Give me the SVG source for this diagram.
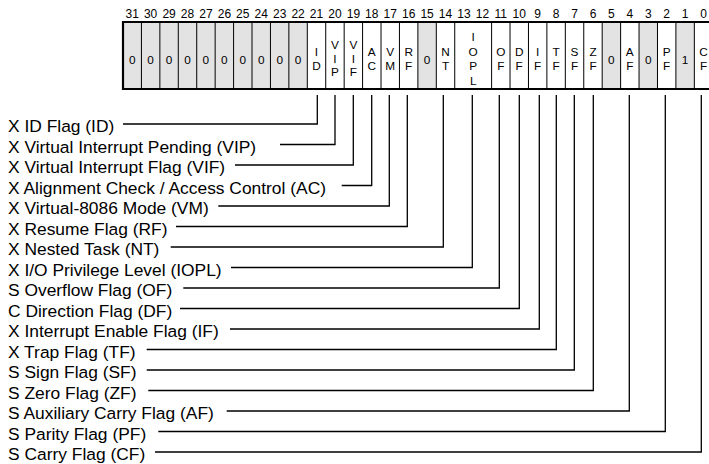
<svg xmlns="http://www.w3.org/2000/svg" width="709" height="464" viewBox="0 0 709 464">
<style>
text{font-family:"Liberation Sans",Arial,sans-serif;fill:#000}
.num{font-size:12px;text-anchor:middle}
.bit{font-size:11.8px;text-anchor:middle}
.lbl{font-size:17.4px}
.res{fill:#e3e3e3}
.div{stroke:#000;stroke-width:1}
.bord{stroke:#000;stroke-width:2.2;fill:none}
.con{stroke:#000;stroke-width:1.3;fill:none}
</style>
<rect width="709" height="464" fill="#fff"/>
<g id="bitnumbers">
<text class="num" x="132.2" y="18">31</text><text class="num" x="150.6" y="18">30</text><text class="num" x="169.1" y="18">29</text><text class="num" x="187.5" y="18">28</text><text class="num" x="205.9" y="18">27</text><text class="num" x="224.4" y="18">26</text><text class="num" x="242.8" y="18">25</text><text class="num" x="261.2" y="18">24</text><text class="num" x="279.7" y="18">23</text><text class="num" x="298.1" y="18">22</text><text class="num" x="316.5" y="18">21</text><text class="num" x="334.9" y="18">20</text><text class="num" x="353.4" y="18">19</text><text class="num" x="371.8" y="18">18</text><text class="num" x="390.2" y="18">17</text><text class="num" x="408.7" y="18">16</text><text class="num" x="427.1" y="18">15</text><text class="num" x="445.5" y="18">14</text><text class="num" x="464.0" y="18">13</text><text class="num" x="482.4" y="18">12</text><text class="num" x="500.8" y="18">11</text><text class="num" x="519.2" y="18">10</text><text class="num" x="537.7" y="18">9</text><text class="num" x="556.1" y="18">8</text><text class="num" x="574.5" y="18">7</text><text class="num" x="593.0" y="18">6</text><text class="num" x="611.4" y="18">5</text><text class="num" x="629.8" y="18">4</text><text class="num" x="648.3" y="18">3</text><text class="num" x="666.7" y="18">2</text><text class="num" x="685.1" y="18">1</text><text class="num" x="703.5" y="18">0</text>
</g>
<g id="register">
<rect class="res" x="123" y="22" width="184.3" height="67"/>
<rect class="res" x="417.88" y="22" width="18.43" height="67"/>
<rect class="res" x="602.18" y="22" width="18.43" height="67"/>
<rect class="res" x="639.04" y="22" width="18.43" height="67"/>
<rect class="res" x="675.9" y="22" width="18.43" height="67"/>
<g class="div">
<line x1="141.43" y1="22" x2="141.43" y2="89"/><line x1="159.86" y1="22" x2="159.86" y2="89"/><line x1="178.29" y1="22" x2="178.29" y2="89"/><line x1="196.72" y1="22" x2="196.72" y2="89"/><line x1="215.15" y1="22" x2="215.15" y2="89"/><line x1="233.58" y1="22" x2="233.58" y2="89"/><line x1="252.01" y1="22" x2="252.01" y2="89"/><line x1="270.44" y1="22" x2="270.44" y2="89"/><line x1="288.87" y1="22" x2="288.87" y2="89"/><line x1="307.3" y1="22" x2="307.3" y2="89"/><line x1="325.73" y1="22" x2="325.73" y2="89"/><line x1="344.16" y1="22" x2="344.16" y2="89"/><line x1="362.59" y1="22" x2="362.59" y2="89"/><line x1="381.02" y1="22" x2="381.02" y2="89"/><line x1="399.45" y1="22" x2="399.45" y2="89"/><line x1="417.88" y1="22" x2="417.88" y2="89"/><line x1="436.31" y1="22" x2="436.31" y2="89"/><line x1="454.74" y1="22" x2="454.74" y2="89"/><line x1="491.6" y1="22" x2="491.6" y2="89"/><line x1="510.03" y1="22" x2="510.03" y2="89"/><line x1="528.46" y1="22" x2="528.46" y2="89"/><line x1="546.89" y1="22" x2="546.89" y2="89"/><line x1="565.32" y1="22" x2="565.32" y2="89"/><line x1="583.75" y1="22" x2="583.75" y2="89"/><line x1="602.18" y1="22" x2="602.18" y2="89"/><line x1="620.61" y1="22" x2="620.61" y2="89"/><line x1="639.04" y1="22" x2="639.04" y2="89"/><line x1="657.47" y1="22" x2="657.47" y2="89"/><line x1="675.9" y1="22" x2="675.9" y2="89"/><line x1="694.33" y1="22" x2="694.33" y2="89"/>
</g>
<path class="bord" d="M715,22 H123 V89 H715"/>
<g id="cellvalues">
<text class="bit" x="132.2" y="64">0</text><text class="bit" x="150.6" y="64">0</text><text class="bit" x="169.1" y="64">0</text><text class="bit" x="187.5" y="64">0</text><text class="bit" x="205.9" y="64">0</text><text class="bit" x="224.4" y="64">0</text><text class="bit" x="242.8" y="64">0</text><text class="bit" x="261.2" y="64">0</text><text class="bit" x="279.7" y="64">0</text><text class="bit" x="298.1" y="64">0</text>
<text class="bit" x="427.1" y="64">0</text><text class="bit" x="611.4" y="64">0</text><text class="bit" x="648.3" y="64">0</text><text class="bit" x="685.1" y="64">1</text>
</g>
<g id="cell-ID"><text class="bit" x="316.5" y="56">I</text><text class="bit" x="316.5" y="69.5">D</text></g>
<g id="cell-VIP"><text class="bit" x="334.9" y="49.2">V</text><text class="bit" x="334.9" y="62.7">I</text><text class="bit" x="334.9" y="76.2">P</text></g>
<g id="cell-VIF"><text class="bit" x="353.4" y="49.2">V</text><text class="bit" x="353.4" y="62.7">I</text><text class="bit" x="353.4" y="76.2">F</text></g>
<g id="cell-AC"><text class="bit" x="371.8" y="56">A</text><text class="bit" x="371.8" y="69.5">C</text></g>
<g id="cell-VM"><text class="bit" x="390.2" y="56">V</text><text class="bit" x="390.2" y="69.5">M</text></g>
<g id="cell-RF"><text class="bit" x="408.7" y="56">R</text><text class="bit" x="408.7" y="69.5">F</text></g>
<g id="cell-NT"><text class="bit" x="445.5" y="56">N</text><text class="bit" x="445.5" y="69.5">T</text></g>
<g id="cell-IOPL"><text class="bit" x="473.2" y="41">I</text><text class="bit" x="473.2" y="55.5">O</text><text class="bit" x="473.2" y="70">P</text><text class="bit" x="473.2" y="84.5">L</text></g>
<g id="cell-OF"><text class="bit" x="500.8" y="56">O</text><text class="bit" x="500.8" y="69.5">F</text></g>
<g id="cell-DF"><text class="bit" x="519.2" y="56">D</text><text class="bit" x="519.2" y="69.5">F</text></g>
<g id="cell-IF"><text class="bit" x="537.7" y="56">I</text><text class="bit" x="537.7" y="69.5">F</text></g>
<g id="cell-TF"><text class="bit" x="556.1" y="56">T</text><text class="bit" x="556.1" y="69.5">F</text></g>
<g id="cell-SF"><text class="bit" x="574.5" y="56">S</text><text class="bit" x="574.5" y="69.5">F</text></g>
<g id="cell-ZF"><text class="bit" x="593.0" y="56">Z</text><text class="bit" x="593.0" y="69.5">F</text></g>
<g id="cell-AF"><text class="bit" x="629.8" y="56">A</text><text class="bit" x="629.8" y="69.5">F</text></g>
<g id="cell-PF"><text class="bit" x="666.7" y="56">P</text><text class="bit" x="666.7" y="69.5">F</text></g>
<g id="cell-CF"><text class="bit" x="703.5" y="56">C</text><text class="bit" x="703.5" y="69.5">F</text></g>
</g>
<g id="connectors" class="con">
<path d="M123,124 H317.3 V95"/>
<path d="M280,144.5 H335 V95"/>
<path d="M235,165 H353.3 V95"/>
<path d="M341.7,185.5 H371.7 V95"/>
<path d="M218.3,206 H389.3 V95"/>
<path d="M176,226.5 H407.3 V95"/>
<path d="M170.7,247 H443.3 V95"/>
<path d="M231,267.5 H472.3 V95"/>
<path d="M183.3,288 H499.3 V95"/>
<path d="M180,308.5 H519.3 V95"/>
<path d="M230,329 H539.3 V95"/>
<path d="M146.7,349.5 H556.3 V95"/>
<path d="M146.7,370 H574.3 V95"/>
<path d="M148.3,390.5 H593.3 V95"/>
<path d="M226.7,411 H629.3 V95"/>
<path d="M158.3,431.5 H665.3 V95"/>
<path d="M155,452 H701.3 V95"/>
</g>
<g id="label-ID"><text class="lbl" x="8" y="132">X ID Flag (ID)</text></g>
<g id="label-VIP"><text class="lbl" x="8" y="152.5">X Virtual Interrupt Pending (VIP)</text></g>
<g id="label-VIF"><text class="lbl" x="8" y="173">X Virtual Interrupt Flag (VIF)</text></g>
<g id="label-AC"><text class="lbl" x="8" y="193.5">X Alignment Check / Access Control (AC)</text></g>
<g id="label-VM"><text class="lbl" x="8" y="214">X Virtual-8086 Mode (VM)</text></g>
<g id="label-RF"><text class="lbl" x="8" y="234.5">X Resume Flag (RF)</text></g>
<g id="label-NT"><text class="lbl" x="8" y="255">X Nested Task (NT)</text></g>
<g id="label-IOPL"><text class="lbl" x="8" y="275.5">X I/O Privilege Level (IOPL)</text></g>
<g id="label-OF"><text class="lbl" x="8" y="296">S Overflow Flag (OF)</text></g>
<g id="label-DF"><text class="lbl" x="8" y="316.5">C Direction Flag (DF)</text></g>
<g id="label-IF"><text class="lbl" x="8" y="337">X Interrupt Enable Flag (IF)</text></g>
<g id="label-TF"><text class="lbl" x="8" y="357.5">X Trap Flag (TF)</text></g>
<g id="label-SF"><text class="lbl" x="8" y="378">S Sign Flag (SF)</text></g>
<g id="label-ZF"><text class="lbl" x="8" y="398.5">S Zero Flag (ZF)</text></g>
<g id="label-AF"><text class="lbl" x="8" y="419">S Auxiliary Carry Flag (AF)</text></g>
<g id="label-PF"><text class="lbl" x="8" y="439.5">S Parity Flag (PF)</text></g>
<g id="label-CF"><text class="lbl" x="8" y="460">S Carry Flag (CF)</text></g>
</svg>
